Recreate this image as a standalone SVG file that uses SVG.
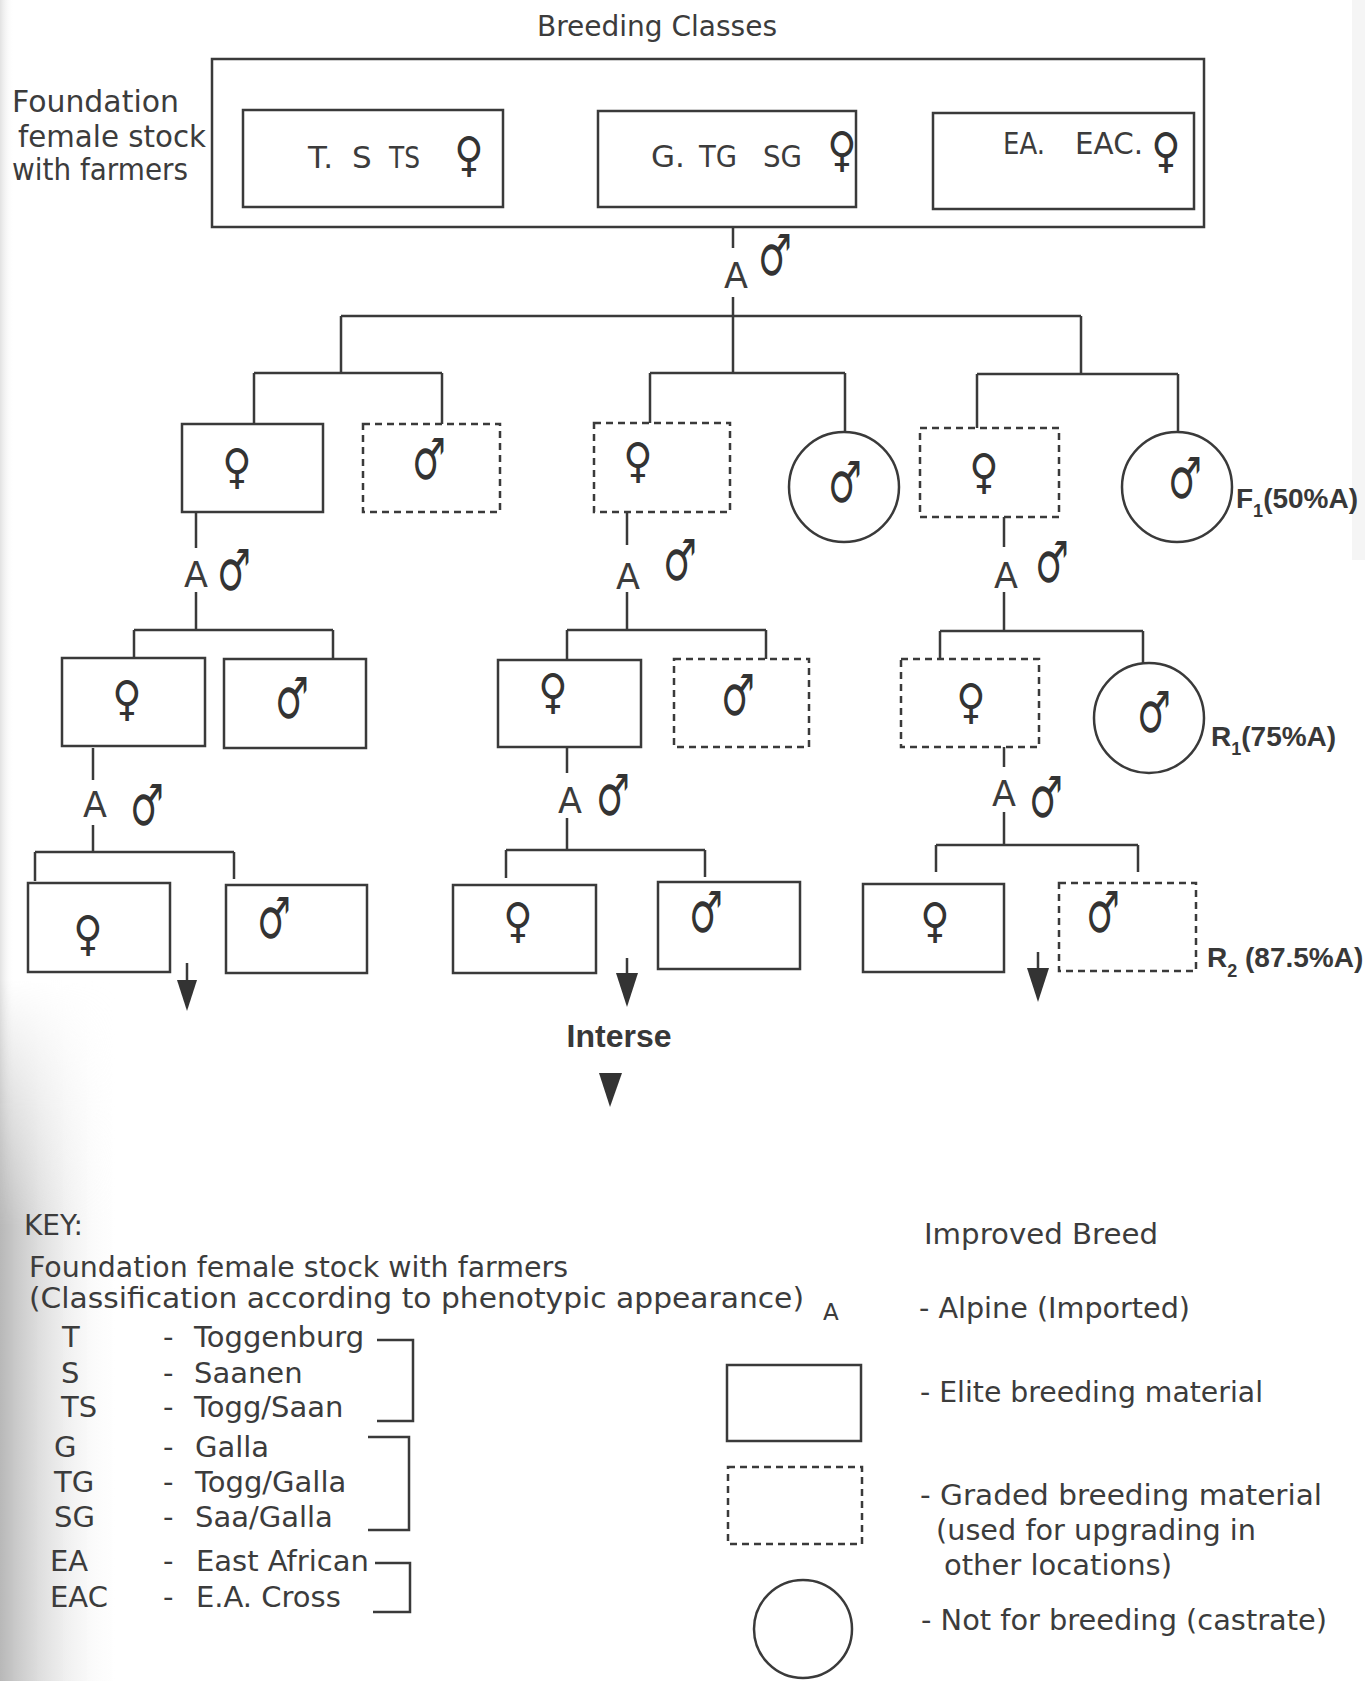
<svg xmlns="http://www.w3.org/2000/svg" width="1365" height="1681" viewBox="0 0 1365 1681">
<defs>
<style>
.t{font-family:"DejaVu Sans",Verdana,sans-serif;fill:#3c3c3c}
.b{font-family:"Liberation Sans",Arial,sans-serif;font-weight:bold;fill:#383838}
.f{font-family:"DejaVu Sans",sans-serif;fill:#333;font-size:40px;text-anchor:middle}
.m{font-family:"DejaVu Sans",sans-serif;fill:#333;font-size:44px}
.a{font-family:"DejaVu Sans",sans-serif;fill:#3c3c3c;font-size:35px;text-anchor:middle}
.box{fill:#fff;stroke:#3a3a3a;stroke-width:2.5}
.dash{fill:#fff;stroke:#3a3a3a;stroke-width:2.5;stroke-dasharray:7 5}
.ln{fill:none;stroke:#3a3a3a;stroke-width:2.5}
.hd{fill:#333}
</style>
<linearGradient id="gL" x1="0" y1="0" x2="1" y2="0">
<stop offset="0" stop-color="#b8b8b8"/>
<stop offset="1" stop-color="#ffffff" stop-opacity="0"/>
</linearGradient>
<linearGradient id="gT" x1="0" y1="0" x2="1" y2="0">
<stop offset="0" stop-color="#e2e2e2"/>
<stop offset="1" stop-color="#ffffff" stop-opacity="0"/>
</linearGradient>
<linearGradient id="gV" x1="0" y1="0" x2="0" y2="1">
<stop offset="0" stop-color="#fff" stop-opacity="0"/>
<stop offset="0.35" stop-color="#fff" stop-opacity="1"/>
<stop offset="1" stop-color="#fff" stop-opacity="1"/>
</linearGradient>
<mask id="mV" maskUnits="userSpaceOnUse" x="0" y="980" width="130" height="701">
<rect x="0" y="980" width="130" height="701" fill="url(#gV)"/>
</mask>
</defs>
<rect width="1365" height="1681" fill="#fff"/>
<rect x="0" y="0" width="14" height="1681" fill="url(#gT)"/>
<rect x="0" y="980" width="125" height="701" fill="url(#gL)" mask="url(#mV)"/>
<rect x="1352" y="0" width="13" height="560" fill="#f5f5f5"/>

<text class="t" x="657" y="36" font-size="28" text-anchor="middle">Breeding Classes</text>

<g id="foundation-label">
<text class="t" x="12" y="112" font-size="30" textLength="167" lengthAdjust="spacingAndGlyphs">Foundation</text>
<text class="t" x="18" y="147" font-size="30" textLength="188" lengthAdjust="spacingAndGlyphs">female stock</text>
<text class="t" x="12" y="180" font-size="30" textLength="176" lengthAdjust="spacingAndGlyphs">with farmers</text>
</g>

<g id="connectors">
<path class="ln" d="M733,227V248M733,297V373M341,316H1081M341,316V373M1081,316V374"/>
<path class="ln" d="M254,373H442M254,373V424M442,373V424"/>
<path class="ln" d="M650,373H845M650,373V423M845,373V432"/>
<path class="ln" d="M977,374H1178M977,374V428M1178,374V432"/>
<path class="ln" d="M196,512V548M196,592V630M134,630H333M134,630V658M333,630V659"/>
<path class="ln" d="M627,512V545M627,592V630M567,630H766M567,630V660M766,630V659"/>
<path class="ln" d="M1004,517V547M1004,592V631M940,631H1143M940,631V659M1143,631V663"/>
<path class="ln" d="M93,748V780M93,825V852M35,852H234M35,852V881M234,852V879"/>
<path class="ln" d="M567,747V773M567,818V850M506,850H705M506,850V878M705,850V877"/>
<path class="ln" d="M1004,747V767M1004,812V845M936,845H1138M936,845V872M1138,845V872"/>
<path class="ln" d="M187,963V982M627,958V975M1038,952V970"/>
<polygon class="hd" points="177,980 197,980 187,1011"/>
<polygon class="hd" points="616,973 638,973 627,1007"/>
<polygon class="hd" points="1027,968 1049,968 1038,1002"/>
<polygon class="hd" points="599,1073 622,1073 610,1107"/>
</g>

<g id="cross-labels">
<text class="a" x="736" y="288">A</text><text class="m" transform="translate(758,275) scale(0.85,1.3)">♂</text>
<text class="a" x="196" y="587">A</text><text class="m" transform="translate(217,590) scale(0.85,1.3)">♂</text>
<text class="a" x="628" y="589">A</text><text class="m" transform="translate(663,580) scale(0.85,1.3)">♂</text>
<text class="a" x="1006" y="588">A</text><text class="m" transform="translate(1035,582) scale(0.85,1.3)">♂</text>
<text class="a" x="95" y="817">A</text><text class="m" transform="translate(130,825) scale(0.85,1.3)">♂</text>
<text class="a" x="570" y="813">A</text><text class="m" transform="translate(596,815) scale(0.85,1.3)">♂</text>
<text class="a" x="1004" y="806">A</text><text class="m" transform="translate(1029,817) scale(0.85,1.3)">♂</text>
</g>

<g id="foundation-stock">
<rect x="212" y="59" width="992" height="168" fill="none" stroke="#3a3a3a" stroke-width="2.5"/>
</g>
<g id="class-T-S-TS">
<rect class="box" x="243" y="110" width="260" height="97"/>
<text class="t" x="308" y="168" font-size="31">T.</text>
<text class="t" x="352" y="168" font-size="31">S</text>
<text class="t" x="389" y="168" font-size="31" textLength="31" lengthAdjust="spacingAndGlyphs">TS</text>
<text class="f" transform="translate(469,171) scale(1,1.2)">♀</text>
</g>
<g id="class-G-TG-SG">
<rect class="box" x="598" y="111" width="258" height="96"/>
<text class="t" x="651" y="167" font-size="31">G.</text>
<text class="t" x="699" y="167" font-size="31" textLength="38" lengthAdjust="spacingAndGlyphs">TG</text>
<text class="t" x="763" y="167" font-size="31" textLength="39" lengthAdjust="spacingAndGlyphs">SG</text>
<text class="f" transform="translate(842,166) scale(1,1.2)">♀</text>
</g>
<g id="class-EA-EAC">
<rect class="box" x="933" y="113" width="261" height="96"/>
<text class="t" x="1003" y="154" font-size="31" textLength="42" lengthAdjust="spacingAndGlyphs">EA.</text>
<text class="t" x="1075" y="154" font-size="31" textLength="68" lengthAdjust="spacingAndGlyphs">EAC.</text>
<text class="f" transform="translate(1166,167) scale(1,1.2)">♀</text>
</g>

<g id="L1F"><rect class="box" x="182" y="424" width="141" height="88"/><text class="f" transform="translate(237,483) scale(1,1.2)">♀</text></g>
<g id="L1M"><rect class="dash" x="363" y="424" width="137" height="88"/><text class="m" transform="translate(412,479) scale(0.85,1.3)">♂</text></g>
<g id="M1F"><rect class="dash" x="594" y="423" width="136" height="89"/><text class="f" transform="translate(638,477) scale(1,1.2)">♀</text></g>
<g id="M1M"><circle class="box" cx="844" cy="487" r="55"/><text class="m" transform="translate(828,502) scale(0.85,1.3)">♂</text></g>
<g id="R1F"><rect class="dash" x="920" y="428" width="139" height="89"/><text class="f" transform="translate(984,488) scale(1,1.2)">♀</text></g>
<g id="R1M"><circle class="box" cx="1177" cy="487" r="55"/><text class="m" transform="translate(1168,498) scale(0.85,1.3)">♂</text></g>
<text class="b" x="1236" y="508" font-size="28">F<tspan font-size="18" dy="9">1</tspan><tspan dy="-9">(50%A)</tspan></text>

<g id="L2F"><rect class="box" x="62" y="658" width="143" height="88"/><text class="f" transform="translate(127,715) scale(1,1.2)">♀</text></g>
<g id="L2M"><rect class="box" x="224" y="659" width="142" height="89"/><text class="m" transform="translate(275,718) scale(0.85,1.3)">♂</text></g>
<g id="M2F"><rect class="box" x="498" y="660" width="143" height="87"/><text class="f" transform="translate(553,708) scale(1,1.2)">♀</text></g>
<g id="M2M"><rect class="dash" x="674" y="659" width="135" height="88"/><text class="m" transform="translate(721,715) scale(0.85,1.3)">♂</text></g>
<g id="R2F"><rect class="dash" x="901" y="659" width="138" height="88"/><text class="f" transform="translate(971,718) scale(1,1.2)">♀</text></g>
<g id="R2M"><circle class="box" cx="1149" cy="718" r="55"/><text class="m" transform="translate(1137,732) scale(0.85,1.3)">♂</text></g>
<text class="b" x="1211" y="746" font-size="28">R<tspan font-size="18" dy="9">1</tspan><tspan dy="-9">(75%A)</tspan></text>

<g id="L3F"><rect class="box" x="28" y="883" width="142" height="89"/><text class="f" transform="translate(88,950) scale(1,1.2)">♀</text></g>
<g id="L3M"><rect class="box" x="226" y="885" width="141" height="88"/><text class="m" transform="translate(257,938) scale(0.85,1.3)">♂</text></g>
<g id="M3F"><rect class="box" x="453" y="885" width="143" height="88"/><text class="f" transform="translate(518,937) scale(1,1.2)">♀</text></g>
<g id="M3M"><rect class="box" x="658" y="882" width="142" height="87"/><text class="m" transform="translate(689,932) scale(0.85,1.3)">♂</text></g>
<g id="R3F"><rect class="box" x="863" y="884" width="141" height="88"/><text class="f" transform="translate(935,937) scale(1,1.2)">♀</text></g>
<g id="R3M"><rect class="dash" x="1059" y="883" width="137" height="88"/><text class="m" transform="translate(1086,932) scale(0.85,1.3)">♂</text></g>
<text class="b" x="1207" y="967" font-size="28">R<tspan font-size="18" dy="10">2</tspan><tspan dy="-10" x="1245">(87.5%A)</tspan></text>

<text class="b" x="619" y="1047" font-size="32" text-anchor="middle">Interse</text>

<g id="key-left">
<text class="t" x="24" y="1235" font-size="28">KEY:</text>
<text class="t" x="29" y="1277" font-size="28" textLength="539" lengthAdjust="spacingAndGlyphs">Foundation female stock with farmers</text>
<text class="t" x="29" y="1308" font-size="28" textLength="775" lengthAdjust="spacingAndGlyphs">(Classification according to phenotypic appearance)</text>
<text class="t" x="823" y="1320" font-size="23">A</text>
<g font-size="29">
<text class="t" x="62" y="1347">T</text><text class="t" x="163" y="1347">-</text><text class="t" x="194" y="1347">Toggenburg</text>
<text class="t" x="61" y="1383">S</text><text class="t" x="163" y="1383">-</text><text class="t" x="194" y="1383">Saanen</text>
<text class="t" x="61" y="1417">TS</text><text class="t" x="163" y="1417">-</text><text class="t" x="194" y="1417">Togg/Saan</text>
<text class="t" x="54" y="1457">G</text><text class="t" x="163" y="1457">-</text><text class="t" x="195" y="1457">Galla</text>
<text class="t" x="54" y="1492">TG</text><text class="t" x="163" y="1492">-</text><text class="t" x="195" y="1492">Togg/Galla</text>
<text class="t" x="54" y="1527">SG</text><text class="t" x="163" y="1527">-</text><text class="t" x="195" y="1527">Saa/Galla</text>
<text class="t" x="50" y="1571">EA</text><text class="t" x="163" y="1571">-</text><text class="t" x="196" y="1571">East African</text>
<text class="t" x="50" y="1607">EAC</text><text class="t" x="163" y="1607">-</text><text class="t" x="196" y="1607">E.A. Cross</text>
</g>
<path class="ln" d="M377,1340H413V1421H377M368,1437H409V1530H368M375,1563H410V1612H373"/>
</g>

<g id="key-right">
<text class="t" x="924" y="1244" font-size="28" textLength="234" lengthAdjust="spacingAndGlyphs">Improved Breed</text>
<text class="t" x="919" y="1318" font-size="28" textLength="271" lengthAdjust="spacingAndGlyphs">- Alpine (Imported)</text>
<rect class="box" x="727" y="1365" width="134" height="76"/>
<text class="t" x="920" y="1402" font-size="28" textLength="343" lengthAdjust="spacingAndGlyphs">- Elite breeding material</text>
<rect class="dash" x="728" y="1467" width="134" height="77"/>
<text class="t" x="920" y="1505" font-size="28" textLength="402" lengthAdjust="spacingAndGlyphs">- Graded breeding material</text>
<text class="t" x="936" y="1540" font-size="28" textLength="320" lengthAdjust="spacingAndGlyphs">(used for upgrading in</text>
<text class="t" x="944" y="1575" font-size="28" textLength="228" lengthAdjust="spacingAndGlyphs">other locations)</text>
<circle class="box" cx="803" cy="1629" r="49"/>
<text class="t" x="921" y="1630" font-size="28" textLength="406" lengthAdjust="spacingAndGlyphs">- Not for breeding (castrate)</text>
</g>
</svg>
